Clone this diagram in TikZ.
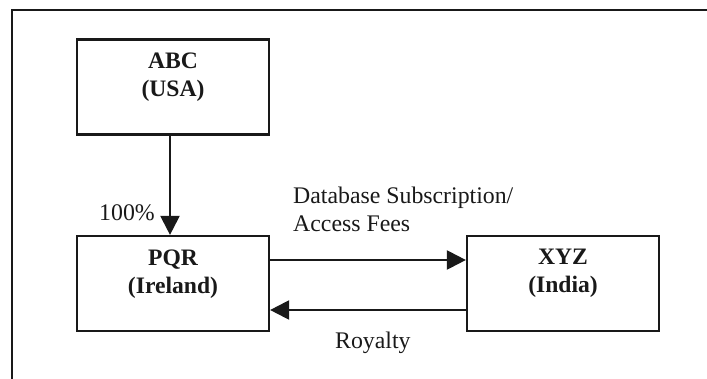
\documentclass[tikz,border=0pt]{standalone}
\usepackage{fontspec}
\setmainfont{Liberation Serif}
\usetikzlibrary{arrows.meta}
\tikzset{
  entity/.style={draw=black!90, line width=2.2pt, minimum width=192pt, minimum height=95pt, inner sep=0pt},
  btext/.style={align=center, inner sep=0pt, font=\fontsize{23.6}{28}\selectfont\bfseries, text=black!90},
  rtext/.style={align=left, inner sep=0pt, anchor=base west, font=\fontsize{23.8}{28.4}\selectfont, text=black!90},
  flow/.style={draw=black!90, line width=2.2pt, -{Triangle[length=19pt,width=19pt]}},
  frame/.style={draw=black!90, line width=2.4pt}
}
\begin{document}
\begin{tikzpicture}[x=1pt,y=-1pt]
\useasboundingbox (0,0) rectangle (707,378);
% outer frame (cropped)
\coordinate (fbl) at (12,380);
\coordinate (ftl) at (12,10);
\coordinate (ftr) at (709,10);
\draw[frame] (fbl) -- (ftl) -- (ftr);
% boxes
\node[entity] (abc) at (173,87) {};
\node[entity] (pqr) at (173,283.5) {};
\node[entity] (xyz) at (563,283.5) {};
% box texts
\node[btext] (abct) at (173,77) {ABC\\(USA)};
\node[btext] (pqrt) at (173,274.5) {PQR\\(Ireland)};
\node[btext] (xyzt) at (563,273.5) {XYZ\\(India)};
% connectors
\draw[flow] ([xshift=-3pt]abc.south) -- ([xshift=-3pt]pqr.north);
\draw[flow] ([yshift=23.5pt]pqr.east) -- ([yshift=23.5pt]xyz.west);
\draw[flow] ([yshift=-26.5pt]xyz.west) -- ([yshift=-26.5pt]pqr.east);
% labels
\node[rtext] (own) at (99,220) {100\%};
\node[rtext] (fees) at (293,231.7) {Database Subscription/\\Access Fees};
\node[rtext] (roy) at (335,348) {Royalty};
\end{tikzpicture}
\end{document}
